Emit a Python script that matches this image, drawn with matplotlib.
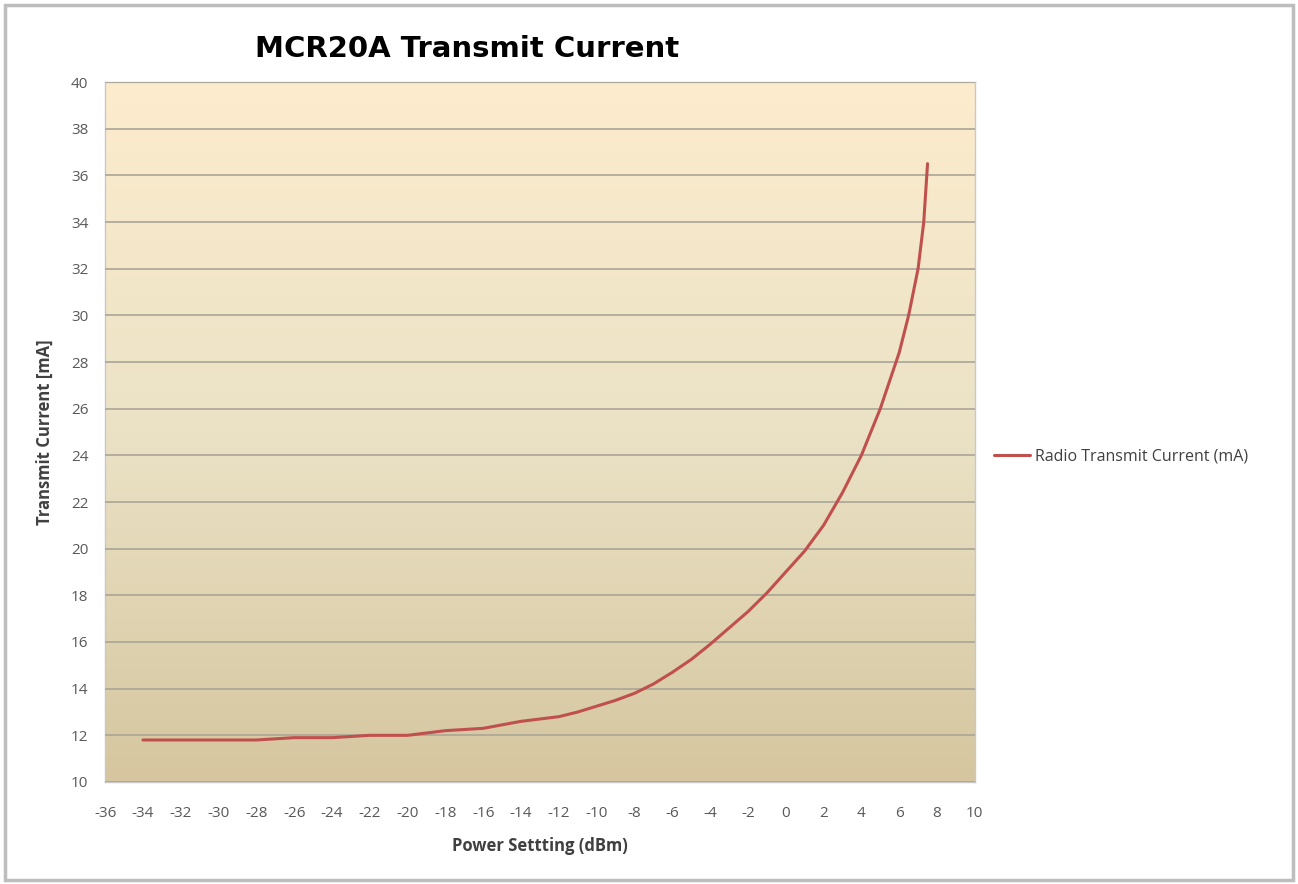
import matplotlib
matplotlib.use("Agg")
import matplotlib.pyplot as plt
from matplotlib.patches import Rectangle
from matplotlib.colors import LinearSegmentedColormap
import numpy as np

# power setting (dBm) vs radio transmit current (mA)
power_dbm = [-34, -32, -30, -28, -26, -24, -22, -20, -18, -16, -14, -12, -11, -10,
             -9, -8, -7, -6, -5, -4, -3, -2, -1, 0, 1, 2, 3, 4, 5, 6, 6.5, 7, 7.3, 7.5]
current_ma = [11.8, 11.8, 11.8, 11.8, 11.9, 11.9, 12.0, 12.0, 12.2, 12.3, 12.6, 12.8, 13.0, 13.25,
              13.5, 13.8, 14.2, 14.7, 15.25, 15.9, 16.6, 17.3, 18.1, 19.0, 19.9, 21.0, 22.4, 24.0,
              26.0, 28.4, 30.0, 32.0, 34.0, 36.5]
series_name = "Radio Transmit Current (mA)"
x_ticks = list(range(-36, 11, 2))
y_ticks = list(range(10, 41, 2))

fig = plt.figure(figsize=(12.98, 8.84), dpi=100)
# outer frame of the chart
fig.patches.append(Rectangle((0.004, 0.004), 0.992, 0.990, transform=fig.transFigure,
                             fill=False, edgecolor="#bdbdbd", linewidth=2.5))

ax = fig.add_axes([0.081, 0.1154, 0.670, 0.7918])

# background gradient, light cream at the top to tan at the bottom
cmap = LinearSegmentedColormap.from_list("bg", ["#d5c69f", "#ebe2c6", "#fdeccd"])
grad = np.linspace(0, 1, 256).reshape(-1, 1)
ax.imshow(grad, cmap=cmap, aspect="auto", origin="lower",
          extent=[0, 1, 0, 1], transform=ax.transAxes, zorder=0)

ax.plot(power_dbm, current_ma, color="#c0504d", linewidth=2.2, label=series_name, zorder=3,
        solid_capstyle="round", solid_joinstyle="round")

ax.set_xlim(-36, 10)
ax.set_ylim(10, 40)
ax.set_xticks(x_ticks)
ax.set_yticks(y_ticks)
ax.set_xticklabels([str(t) for t in x_ticks])
ax.tick_params(length=0, labelsize=11, labelcolor="#595959")
ax.tick_params(axis="x", pad=17)
ax.tick_params(axis="y", pad=12)
for lbl in ax.get_xticklabels() + ax.get_yticklabels():
    lbl.set_family("Open Sans")
ax.grid(axis="y", color="#aaa597", linewidth=1.2, zorder=1)
ax.set_axisbelow(False)
for s in ax.spines.values():
    s.set_color("#c8c8c8")
    s.set_linewidth(1.0)

ax.set_xlabel("Power Settting (dBm)", fontsize=12, fontweight="bold", color="#404040",
              family="Open Sans", labelpad=12)
ax.set_ylabel("Transmit Current [mA]", fontsize=12, fontweight="bold", color="#404040",
              family="Open Sans", labelpad=12)

fig.text(0.360, 0.945, "MCR20A Transmit Current", fontsize=21, fontweight="bold",
         ha="center", va="center", color="black")

leg = ax.legend(loc="center left", bbox_to_anchor=(1.005, 0.465), frameon=False,
                handlelength=2.3, handletextpad=0.3, prop={"family": "Open Sans", "size": 11.5})
for t in leg.get_texts():
    t.set_color("#404040")

fig.savefig("out.png", dpi=100)
